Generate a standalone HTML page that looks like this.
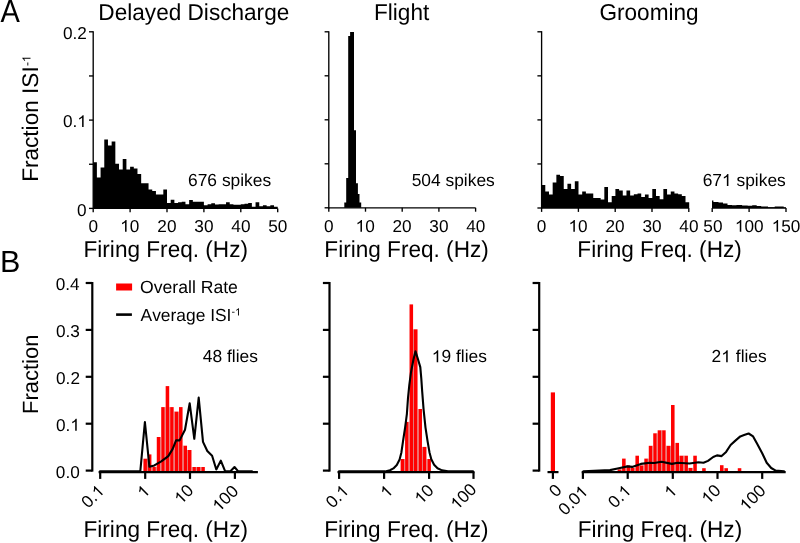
<!DOCTYPE html>
<html><head><meta charset="utf-8"><style>
html,body{margin:0;padding:0;background:#fff;}
body{width:800px;height:543px;overflow:hidden;}
svg{display:block;will-change:transform;}
text{font-family:"Liberation Sans", sans-serif;fill:#000;font-kerning:none;font-variant-ligatures:none;text-rendering:geometricPrecision;}
</style></head><body>
<svg width="800" height="543" viewBox="0 0 800 543">
<g transform="translate(0.44,21.80) scale(1,1.1)"><text x="0.00" y="0" font-size="29">A</text></g>
<g transform="translate(0.10,271.50)"><text x="0.00" y="0" font-size="30.5">B</text></g>
<g transform="translate(98.37,19.70) scale(1,1.02)"><text x="0.00" y="0" font-size="22.6">Delayed Discharge</text></g>
<g transform="translate(374.02,19.70) scale(1,1.02)"><text x="0.00" y="0" font-size="22.6">Flight</text></g>
<g transform="translate(599.40,19.50) scale(1,1.02)"><text x="0.00" y="0" font-size="22.6">Grooming</text></g>
<path d="M93.20,208.40 L93.20,162.20 L96.89,162.20 L96.89,177.40 L100.58,177.40 L100.58,167.40 L104.27,167.40 L104.27,139.40 L107.96,139.40 L107.96,145.40 L111.65,145.40 L111.65,141.50 L115.34,141.50 L115.34,163.80 L119.03,163.80 L119.03,169.40 L122.72,169.40 L122.72,159.10 L126.41,159.10 L126.41,169.40 L130.10,169.40 L130.10,166.80 L133.79,166.80 L133.79,168.60 L137.48,168.60 L137.48,174.10 L141.17,174.10 L141.17,183.20 L144.86,183.20 L144.86,183.20 L148.55,183.20 L148.55,189.60 L152.24,189.60 L152.24,190.90 L155.93,190.90 L155.93,194.40 L159.62,194.40 L159.62,194.40 L163.31,194.40 L163.31,189.50 L167.00,189.50 L167.00,203.00 L170.69,203.00 L170.69,199.70 L174.38,199.70 L174.38,203.00 L178.07,203.00 L178.07,202.25 L181.76,202.25 L181.76,201.80 L185.45,201.80 L185.45,204.20 L189.14,204.20 L189.14,200.00 L192.83,200.00 L192.83,201.80 L196.52,201.80 L196.52,201.80 L200.21,201.80 L200.21,201.80 L203.90,201.80 L203.90,205.25 L207.59,205.25 L207.59,204.20 L211.28,204.20 L211.28,203.30 L214.97,203.30 L214.97,204.50 L218.66,204.50 L218.66,204.20 L222.35,204.20 L222.35,204.20 L226.04,204.20 L226.04,202.25 L229.73,202.25 L229.73,204.20 L233.42,204.20 L233.42,204.80 L237.11,204.80 L237.11,204.80 L240.80,204.80 L240.80,204.20 L244.49,204.20 L244.49,203.75 L248.18,203.75 L248.18,203.00 L251.87,203.00 L251.87,206.75 L255.56,206.75 L255.56,202.25 L259.25,202.25 L259.25,206.30 L262.94,206.30 L262.94,205.25 L266.63,205.25 L266.63,206.30 L270.32,206.30 L270.32,205.25 L274.01,205.25 L274.01,206.75 L277.70,206.75 L277.70,208.40 Z" fill="#000"/>
<line x1="93.20" y1="31.15" x2="93.20" y2="209.05" stroke="#000" stroke-width="1.35"/>
<line x1="89.00" y1="208.40" x2="93.20" y2="208.40" stroke="#000" stroke-width="1.35"/>
<line x1="89.00" y1="164.25" x2="93.20" y2="164.25" stroke="#000" stroke-width="1.35"/>
<line x1="89.00" y1="120.10" x2="93.20" y2="120.10" stroke="#000" stroke-width="1.35"/>
<line x1="89.00" y1="75.95" x2="93.20" y2="75.95" stroke="#000" stroke-width="1.35"/>
<line x1="89.00" y1="31.80" x2="93.20" y2="31.80" stroke="#000" stroke-width="1.35"/>
<line x1="93.20" y1="208.40" x2="277.70" y2="208.40" stroke="#000" stroke-width="1.35"/>
<line x1="93.20" y1="208.40" x2="93.20" y2="212.30" stroke="#000" stroke-width="1.35"/>
<line x1="130.10" y1="208.40" x2="130.10" y2="212.30" stroke="#000" stroke-width="1.35"/>
<line x1="167.00" y1="208.40" x2="167.00" y2="212.30" stroke="#000" stroke-width="1.35"/>
<line x1="203.90" y1="208.40" x2="203.90" y2="212.30" stroke="#000" stroke-width="1.35"/>
<line x1="240.80" y1="208.40" x2="240.80" y2="212.30" stroke="#000" stroke-width="1.35"/>
<line x1="277.70" y1="208.40" x2="277.70" y2="212.30" stroke="#000" stroke-width="1.35"/>
<g transform="translate(88.42,231.80)"><text x="0.00" y="0" font-size="17.2">0</text></g>
<g transform="translate(120.22,231.80)"><text x="0.00" y="0" font-size="17.2"> 0</text><path d="M575,0 L575,1100 Q500,1040 400,985 Q310,935 219,900 L219,1065 Q360,1125 480,1225 Q590,1320 640,1409 L756,1409 L756,0 Z" transform="translate(0.00,0) scale(0.00840,-0.00840)"/></g>
<g transform="translate(157.34,231.80)"><text x="0.00" y="0" font-size="17.2">20</text></g>
<g transform="translate(194.35,231.80)"><text x="0.00" y="0" font-size="17.2">30</text></g>
<g transform="translate(231.37,231.80)"><text x="0.00" y="0" font-size="17.2">40</text></g>
<g transform="translate(268.13,231.80)"><text x="0.00" y="0" font-size="17.2">50</text></g>
<g transform="translate(62.95,38.70)"><text x="0.00" y="0" font-size="17.2">0.2</text></g>
<g transform="translate(62.93,127.10)"><text x="0.00" y="0" font-size="17.2">0. </text><path d="M575,0 L575,1100 Q500,1040 400,985 Q310,935 219,900 L219,1065 Q360,1125 480,1225 Q590,1320 640,1409 L756,1409 L756,0 Z" transform="translate(14.34,0) scale(0.00840,-0.00840)"/></g>
<g transform="translate(77.11,215.60)"><text x="0.00" y="0" font-size="17.2">0</text></g>
<g transform="translate(83.53,256.60) scale(1,1.02)"><text x="0.00" y="0" font-size="22.6">Firing Freq. (Hz)</text></g>
<g transform="translate(188.03,186.10)"><text x="0.00" y="0" font-size="17.4">676 spikes</text></g>
<g transform="translate(38.20,181.85) rotate(-90)"><text x="0.00" y="0" font-size="22.6">Fraction ISI</text></g>
<g transform="translate(30.50,66.10) rotate(-90)"><text x="0.00" y="0" font-size="12.0">- </text><path d="M575,0 L575,1100 Q500,1040 400,985 Q310,935 219,900 L219,1065 Q360,1125 480,1225 Q590,1320 640,1409 L756,1409 L756,0 Z" transform="translate(4.00,0) scale(0.00586,-0.00586)"/></g>
<g transform="translate(37.80,414.00) rotate(-90)"><text x="0.00" y="0" font-size="22.0">Fraction</text></g>
<path d="M344.30,207.80 L344.30,202.40 L346.20,202.40 L346.20,178.00 L348.20,178.00 L348.20,36.00 L350.10,36.00 L350.10,31.90 L354.00,31.90 L354.00,130.20 L356.00,130.20 L356.00,183.20 L357.90,183.20 L357.90,194.00 L359.50,194.00 L359.50,202.40 L361.20,202.40 L361.20,207.80 Z" fill="#000"/>
<line x1="328.80" y1="31.15" x2="328.80" y2="208.45" stroke="#000" stroke-width="1.35"/>
<line x1="324.60" y1="207.80" x2="328.80" y2="207.80" stroke="#000" stroke-width="1.35"/>
<line x1="324.60" y1="163.80" x2="328.80" y2="163.80" stroke="#000" stroke-width="1.35"/>
<line x1="324.60" y1="119.80" x2="328.80" y2="119.80" stroke="#000" stroke-width="1.35"/>
<line x1="324.60" y1="75.80" x2="328.80" y2="75.80" stroke="#000" stroke-width="1.35"/>
<line x1="324.60" y1="31.80" x2="328.80" y2="31.80" stroke="#000" stroke-width="1.35"/>
<line x1="328.80" y1="207.80" x2="475.60" y2="207.80" stroke="#000" stroke-width="1.35"/>
<line x1="328.80" y1="207.80" x2="328.80" y2="211.70" stroke="#000" stroke-width="1.35"/>
<line x1="365.50" y1="207.80" x2="365.50" y2="211.70" stroke="#000" stroke-width="1.35"/>
<line x1="402.20" y1="207.80" x2="402.20" y2="211.70" stroke="#000" stroke-width="1.35"/>
<line x1="438.90" y1="207.80" x2="438.90" y2="211.70" stroke="#000" stroke-width="1.35"/>
<line x1="475.60" y1="207.80" x2="475.60" y2="211.70" stroke="#000" stroke-width="1.35"/>
<g transform="translate(324.02,231.80)"><text x="0.00" y="0" font-size="17.2">0</text></g>
<g transform="translate(355.62,231.80)"><text x="0.00" y="0" font-size="17.2"> 0</text><path d="M575,0 L575,1100 Q500,1040 400,985 Q310,935 219,900 L219,1065 Q360,1125 480,1225 Q590,1320 640,1409 L756,1409 L756,0 Z" transform="translate(0.00,0) scale(0.00840,-0.00840)"/></g>
<g transform="translate(392.54,231.80)"><text x="0.00" y="0" font-size="17.2">20</text></g>
<g transform="translate(429.35,231.80)"><text x="0.00" y="0" font-size="17.2">30</text></g>
<g transform="translate(466.17,231.80)"><text x="0.00" y="0" font-size="17.2">40</text></g>
<g transform="translate(324.33,257.00) scale(1,1.02)"><text x="0.00" y="0" font-size="22.6">Firing Freq. (Hz)</text></g>
<g transform="translate(411.63,186.10)"><text x="0.00" y="0" font-size="17.4">504 spikes</text></g>
<path d="M541.60,208.00 L541.60,185.00 L545.29,185.00 L545.29,191.50 L548.98,191.50 L548.98,194.50 L552.67,194.50 L552.67,182.50 L556.36,182.50 L556.36,174.80 L560.05,174.80 L560.05,176.00 L563.74,176.00 L563.74,189.00 L567.43,189.00 L567.43,183.80 L571.12,183.80 L571.12,189.00 L574.81,189.00 L574.81,181.20 L578.50,181.20 L578.50,194.50 L582.19,194.50 L582.19,191.50 L585.88,191.50 L585.88,193.50 L589.57,193.50 L589.57,193.50 L593.26,193.50 L593.26,198.00 L596.95,198.00 L596.95,198.00 L600.64,198.00 L600.64,199.50 L604.33,199.50 L604.33,187.00 L608.02,187.00 L608.02,202.20 L611.71,202.20 L611.71,196.00 L615.40,196.00 L615.40,189.00 L619.09,189.00 L619.09,190.50 L622.78,190.50 L622.78,195.50 L626.47,195.50 L626.47,190.50 L630.16,190.50 L630.16,195.50 L633.85,195.50 L633.85,194.20 L637.54,194.20 L637.54,193.50 L641.23,193.50 L641.23,197.00 L644.92,197.00 L644.92,194.50 L648.61,194.50 L648.61,198.00 L652.30,198.00 L652.30,189.00 L655.99,189.00 L655.99,196.00 L659.68,196.00 L659.68,199.20 L663.37,199.20 L663.37,189.00 L667.06,189.00 L667.06,194.50 L670.75,194.50 L670.75,191.50 L674.44,191.50 L674.44,193.50 L678.13,193.50 L678.13,194.20 L681.82,194.20 L681.82,196.00 L685.51,196.00 L685.51,202.20 L689.20,202.20 L689.20,208.00 Z" fill="#000"/>
<path d="M712,208.00 L712.00,200.50 L713.40,200.50 L713.40,202.10 L718.50,202.10 L718.50,202.40 L723.00,202.40 L723.00,203.60 L727.50,203.60 L727.50,205.00 L732.00,205.00 L732.00,205.20 L736.50,205.20 L736.50,205.00 L742.10,205.00 L742.10,205.50 L747.70,205.50 L747.70,205.80 L752.20,205.80 L752.20,205.20 L756.70,205.20 L756.70,206.10 L761.20,206.10 L761.20,206.60 L768.00,206.60 L768.00,207.30 L774.70,207.30 L774.70,206.60 L783.70,206.60 L783.70,207.50 L785.60,207.50 L785.6,208.00 Z" fill="#000"/>
<line x1="541.60" y1="31.15" x2="541.60" y2="208.65" stroke="#000" stroke-width="1.35"/>
<line x1="537.40" y1="208.00" x2="541.60" y2="208.00" stroke="#000" stroke-width="1.35"/>
<line x1="537.40" y1="163.95" x2="541.60" y2="163.95" stroke="#000" stroke-width="1.35"/>
<line x1="537.40" y1="119.90" x2="541.60" y2="119.90" stroke="#000" stroke-width="1.35"/>
<line x1="537.40" y1="75.85" x2="541.60" y2="75.85" stroke="#000" stroke-width="1.35"/>
<line x1="537.40" y1="31.80" x2="541.60" y2="31.80" stroke="#000" stroke-width="1.35"/>
<line x1="541.60" y1="208.00" x2="688.80" y2="208.00" stroke="#000" stroke-width="1.35"/>
<line x1="541.60" y1="208.00" x2="541.60" y2="211.90" stroke="#000" stroke-width="1.35"/>
<line x1="578.40" y1="208.00" x2="578.40" y2="211.90" stroke="#000" stroke-width="1.35"/>
<line x1="615.20" y1="208.00" x2="615.20" y2="211.90" stroke="#000" stroke-width="1.35"/>
<line x1="652.00" y1="208.00" x2="652.00" y2="211.90" stroke="#000" stroke-width="1.35"/>
<line x1="688.80" y1="208.00" x2="688.80" y2="211.90" stroke="#000" stroke-width="1.35"/>
<g transform="translate(536.82,231.80)"><text x="0.00" y="0" font-size="17.2">0</text></g>
<g transform="translate(568.52,231.80)"><text x="0.00" y="0" font-size="17.2"> 0</text><path d="M575,0 L575,1100 Q500,1040 400,985 Q310,935 219,900 L219,1065 Q360,1125 480,1225 Q590,1320 640,1409 L756,1409 L756,0 Z" transform="translate(0.00,0) scale(0.00840,-0.00840)"/></g>
<g transform="translate(605.54,231.80)"><text x="0.00" y="0" font-size="17.2">20</text></g>
<g transform="translate(642.45,231.80)"><text x="0.00" y="0" font-size="17.2">30</text></g>
<g transform="translate(679.37,231.80)"><text x="0.00" y="0" font-size="17.2">40</text></g>
<line x1="712.20" y1="208.00" x2="786.00" y2="208.00" stroke="#000" stroke-width="1.35"/>
<line x1="712.20" y1="208.00" x2="712.20" y2="211.90" stroke="#000" stroke-width="1.35"/>
<line x1="749.10" y1="208.00" x2="749.10" y2="211.90" stroke="#000" stroke-width="1.35"/>
<line x1="786.00" y1="208.00" x2="786.00" y2="211.90" stroke="#000" stroke-width="1.35"/>
<g transform="translate(703.33,231.80)"><text x="0.00" y="0" font-size="17.2">50</text></g>
<g transform="translate(734.94,231.80)"><text x="0.00" y="0" font-size="17.2"> 00</text><path d="M575,0 L575,1100 Q500,1040 400,985 Q310,935 219,900 L219,1065 Q360,1125 480,1225 Q590,1320 640,1409 L756,1409 L756,0 Z" transform="translate(0.00,0) scale(0.00840,-0.00840)"/></g>
<g transform="translate(771.74,231.80)"><text x="0.00" y="0" font-size="17.2"> 50</text><path d="M575,0 L575,1100 Q500,1040 400,985 Q310,935 219,900 L219,1065 Q360,1125 480,1225 Q590,1320 640,1409 L756,1409 L756,0 Z" transform="translate(0.00,0) scale(0.00840,-0.00840)"/></g>
<g transform="translate(577.33,257.00) scale(1,1.02)"><text x="0.00" y="0" font-size="22.6">Firing Freq. (Hz)</text></g>
<g transform="translate(702.63,186.10)"><text x="0.00" y="0" font-size="17.4">67  spikes</text><path d="M575,0 L575,1100 Q500,1040 400,985 Q310,935 219,900 L219,1065 Q360,1125 480,1225 Q590,1320 640,1409 L756,1409 L756,0 Z" transform="translate(19.35,0) scale(0.00850,-0.00850)"/></g>
<rect x="143.42" y="458.70" width="3.55" height="13.40" fill="#ff0000"/>
<rect x="147.87" y="454.40" width="3.55" height="17.70" fill="#ff0000"/>
<rect x="152.32" y="466.80" width="3.55" height="5.30" fill="#ff0000"/>
<rect x="156.77" y="437.00" width="3.55" height="35.10" fill="#ff0000"/>
<rect x="161.22" y="407.10" width="3.55" height="65.00" fill="#ff0000"/>
<rect x="165.67" y="386.10" width="3.55" height="86.00" fill="#ff0000"/>
<rect x="170.12" y="407.10" width="3.55" height="65.00" fill="#ff0000"/>
<rect x="174.57" y="411.60" width="3.55" height="60.50" fill="#ff0000"/>
<rect x="179.02" y="407.10" width="3.55" height="65.00" fill="#ff0000"/>
<rect x="183.47" y="445.70" width="3.55" height="26.40" fill="#ff0000"/>
<rect x="187.92" y="450.00" width="3.55" height="22.10" fill="#ff0000"/>
<rect x="192.37" y="467.00" width="3.55" height="5.10" fill="#ff0000"/>
<rect x="196.82" y="467.00" width="3.55" height="5.10" fill="#ff0000"/>
<rect x="201.27" y="467.00" width="3.55" height="5.10" fill="#ff0000"/>
<rect x="146.97" y="458.70" width="0.90" height="13.40" fill="#de6a6a"/>
<rect x="151.42" y="466.80" width="0.90" height="5.30" fill="#de6a6a"/>
<rect x="155.88" y="466.80" width="0.90" height="5.30" fill="#de6a6a"/>
<rect x="160.32" y="437.00" width="0.90" height="35.10" fill="#de6a6a"/>
<rect x="164.78" y="407.10" width="0.90" height="65.00" fill="#de6a6a"/>
<rect x="169.22" y="407.10" width="0.90" height="65.00" fill="#de6a6a"/>
<rect x="173.67" y="411.60" width="0.90" height="60.50" fill="#de6a6a"/>
<rect x="178.12" y="411.60" width="0.90" height="60.50" fill="#de6a6a"/>
<rect x="182.57" y="445.70" width="0.90" height="26.40" fill="#de6a6a"/>
<rect x="187.03" y="450.00" width="0.90" height="22.10" fill="#de6a6a"/>
<rect x="191.47" y="467.00" width="0.90" height="5.10" fill="#de6a6a"/>
<rect x="195.92" y="467.00" width="0.90" height="5.10" fill="#de6a6a"/>
<rect x="200.38" y="467.00" width="0.90" height="5.10" fill="#de6a6a"/>
<line x1="92.30" y1="282.00" x2="92.30" y2="471.60" stroke="#000" stroke-width="2.2"/>
<line x1="85.70" y1="470.60" x2="92.30" y2="470.60" stroke="#000" stroke-width="2.2"/>
<line x1="85.70" y1="423.70" x2="92.30" y2="423.70" stroke="#000" stroke-width="2.2"/>
<line x1="85.70" y1="376.80" x2="92.30" y2="376.80" stroke="#000" stroke-width="2.2"/>
<line x1="85.70" y1="329.90" x2="92.30" y2="329.90" stroke="#000" stroke-width="2.2"/>
<line x1="85.70" y1="283.00" x2="92.30" y2="283.00" stroke="#000" stroke-width="2.2"/>
<g transform="translate(55.69,290.00)"><text x="0.00" y="0" font-size="17.2">0.4</text></g>
<g transform="translate(55.95,336.90)"><text x="0.00" y="0" font-size="17.2">0.3</text></g>
<g transform="translate(56.05,383.80)"><text x="0.00" y="0" font-size="17.2">0.2</text></g>
<g transform="translate(56.03,430.70)"><text x="0.00" y="0" font-size="17.2">0. </text><path d="M575,0 L575,1100 Q500,1040 400,985 Q310,935 219,900 L219,1065 Q360,1125 480,1225 Q590,1320 640,1409 L756,1409 L756,0 Z" transform="translate(14.34,0) scale(0.00840,-0.00840)"/></g>
<g transform="translate(55.86,477.60)"><text x="0.00" y="0" font-size="17.2">0.0</text></g>
<line x1="98.60" y1="472.10" x2="257.90" y2="472.10" stroke="#000" stroke-width="2.2"/>
<line x1="100.20" y1="472.10" x2="100.20" y2="478.90" stroke="#000" stroke-width="2.2"/>
<line x1="145.20" y1="472.10" x2="145.20" y2="478.90" stroke="#000" stroke-width="2.2"/>
<line x1="190.00" y1="472.10" x2="190.00" y2="478.90" stroke="#000" stroke-width="2.2"/>
<line x1="234.90" y1="472.10" x2="234.90" y2="478.90" stroke="#000" stroke-width="2.2"/>
<g transform="translate(105.22,492.00) rotate(-45)"><text x="-23.91" y="0" font-size="17.2">0. </text><path d="M575,0 L575,1100 Q500,1040 400,985 Q310,935 219,900 L219,1065 Q360,1125 480,1225 Q590,1320 640,1409 L756,1409 L756,0 Z" transform="translate(-9.56,0) scale(0.00840,-0.00840)"/></g>
<g transform="translate(150.80,492.22) rotate(-45)"><text x="-9.56" y="0" font-size="17.2"> </text><path d="M575,0 L575,1100 Q500,1040 400,985 Q310,935 219,900 L219,1065 Q360,1125 480,1225 Q590,1320 640,1409 L756,1409 L756,0 Z" transform="translate(-9.56,0) scale(0.00840,-0.00840)"/></g>
<g transform="translate(194.60,491.52) rotate(-45)"><text x="-19.13" y="0" font-size="17.2"> 0</text><path d="M575,0 L575,1100 Q500,1040 400,985 Q310,935 219,900 L219,1065 Q360,1125 480,1225 Q590,1320 640,1409 L756,1409 L756,0 Z" transform="translate(-19.13,0) scale(0.00840,-0.00840)"/></g>
<g transform="translate(239.40,492.30) rotate(-45)"><text x="-28.69" y="0" font-size="17.2"> 00</text><path d="M575,0 L575,1100 Q500,1040 400,985 Q310,935 219,900 L219,1065 Q360,1125 480,1225 Q590,1320 640,1409 L756,1409 L756,0 Z" transform="translate(-28.69,0) scale(0.00840,-0.00840)"/></g>
<polyline points="100.00,471.40 140.30,471.40 144.90,422.00 149.40,466.70 154.30,465.40 161.30,461.40 168.30,456.10 172.60,449.10 176.10,440.40 179.60,440.40 185.00,429.70 189.70,403.30 194.30,438.80 198.70,397.60 203.00,441.90 207.30,451.00 212.10,455.80 216.30,469.50 220.80,460.60 225.20,471.40 230.20,471.40 234.50,467.00 238.20,471.40 252.00,471.40" fill="none" stroke="#000" stroke-width="2.1" stroke-linejoin="round" stroke-linecap="round"/>
<g transform="translate(83.53,537.00) scale(1,1.02)"><text x="0.00" y="0" font-size="22.6">Firing Freq. (Hz)</text></g>
<g transform="translate(202.85,362.30)"><text x="0.00" y="0" font-size="17.4">48 flies</text></g>
<rect x="116.10" y="283.50" width="16.00" height="7.00" fill="#ff0000"/>
<line x1="116.10" y1="314.60" x2="131.90" y2="314.60" stroke="#000" stroke-width="2.6"/>
<g transform="translate(140.07,293.40)"><text x="0.00" y="0" font-size="17.6">Overall Rate</text></g>
<g transform="translate(140.57,320.90)"><text x="0.00" y="0" font-size="17.4">Average ISI</text></g>
<g transform="translate(231.54,315.40)"><text x="0.00" y="0" font-size="10.5">- </text><path d="M575,0 L575,1100 Q500,1040 400,985 Q310,935 219,900 L219,1065 Q360,1125 480,1225 Q590,1320 640,1409 L756,1409 L756,0 Z" transform="translate(3.50,0) scale(0.00513,-0.00513)"/></g>
<rect x="400.63" y="459.00" width="3.55" height="13.10" fill="#ff0000"/>
<rect x="405.08" y="421.90" width="3.55" height="50.20" fill="#ff0000"/>
<rect x="409.53" y="304.40" width="3.55" height="167.70" fill="#ff0000"/>
<rect x="413.98" y="329.30" width="3.55" height="142.80" fill="#ff0000"/>
<rect x="418.43" y="409.00" width="3.55" height="63.10" fill="#ff0000"/>
<rect x="422.88" y="446.90" width="3.55" height="25.20" fill="#ff0000"/>
<rect x="427.33" y="459.00" width="3.55" height="13.10" fill="#ff0000"/>
<rect x="404.18" y="459.00" width="0.90" height="13.10" fill="#de6a6a"/>
<rect x="408.62" y="421.90" width="0.90" height="50.20" fill="#de6a6a"/>
<rect x="413.07" y="329.30" width="0.90" height="142.80" fill="#de6a6a"/>
<rect x="417.52" y="409.00" width="0.90" height="63.10" fill="#de6a6a"/>
<rect x="421.98" y="446.90" width="0.90" height="25.20" fill="#de6a6a"/>
<rect x="426.43" y="459.00" width="0.90" height="13.10" fill="#de6a6a"/>
<line x1="329.50" y1="282.00" x2="329.50" y2="471.60" stroke="#000" stroke-width="2.2"/>
<line x1="322.90" y1="470.60" x2="329.50" y2="470.60" stroke="#000" stroke-width="2.2"/>
<line x1="322.90" y1="423.70" x2="329.50" y2="423.70" stroke="#000" stroke-width="2.2"/>
<line x1="322.90" y1="376.80" x2="329.50" y2="376.80" stroke="#000" stroke-width="2.2"/>
<line x1="322.90" y1="329.90" x2="329.50" y2="329.90" stroke="#000" stroke-width="2.2"/>
<line x1="322.90" y1="283.00" x2="329.50" y2="283.00" stroke="#000" stroke-width="2.2"/>
<line x1="337.50" y1="472.10" x2="474.50" y2="472.10" stroke="#000" stroke-width="2.2"/>
<line x1="339.10" y1="472.10" x2="339.10" y2="478.90" stroke="#000" stroke-width="2.2"/>
<line x1="384.10" y1="472.10" x2="384.10" y2="478.90" stroke="#000" stroke-width="2.2"/>
<line x1="429.10" y1="472.10" x2="429.10" y2="478.90" stroke="#000" stroke-width="2.2"/>
<line x1="473.50" y1="472.10" x2="473.50" y2="478.90" stroke="#000" stroke-width="2.2"/>
<g transform="translate(349.68,492.00) rotate(-45)"><text x="-23.91" y="0" font-size="17.2">0. </text><path d="M575,0 L575,1100 Q500,1040 400,985 Q310,935 219,900 L219,1065 Q360,1125 480,1225 Q590,1320 640,1409 L756,1409 L756,0 Z" transform="translate(-9.56,0) scale(0.00840,-0.00840)"/></g>
<g transform="translate(393.80,492.22) rotate(-45)"><text x="-9.56" y="0" font-size="17.2"> </text><path d="M575,0 L575,1100 Q500,1040 400,985 Q310,935 219,900 L219,1065 Q360,1125 480,1225 Q590,1320 640,1409 L756,1409 L756,0 Z" transform="translate(-9.56,0) scale(0.00840,-0.00840)"/></g>
<g transform="translate(434.70,491.52) rotate(-45)"><text x="-19.13" y="0" font-size="17.2"> 0</text><path d="M575,0 L575,1100 Q500,1040 400,985 Q310,935 219,900 L219,1065 Q360,1125 480,1225 Q590,1320 640,1409 L756,1409 L756,0 Z" transform="translate(-19.13,0) scale(0.00840,-0.00840)"/></g>
<g transform="translate(477.50,490.40) rotate(-45)"><text x="-28.69" y="0" font-size="17.2"> 00</text><path d="M575,0 L575,1100 Q500,1040 400,985 Q310,935 219,900 L219,1065 Q360,1125 480,1225 Q590,1320 640,1409 L756,1409 L756,0 Z" transform="translate(-28.69,0) scale(0.00840,-0.00840)"/></g>
<polyline points="339.00,471.40 385.00,471.40 390.00,470.20 393.40,468.40 396.80,464.90 399.60,459.40 401.40,452.40 403.00,441.40 405.10,427.60 406.90,413.80 408.00,398.00 409.30,385.10 411.00,372.20 413.50,359.30 415.50,351.20 418.00,359.30 420.30,367.10 421.30,378.70 422.20,391.60 423.60,409.60 425.50,427.60 427.60,441.40 429.50,452.40 431.30,459.30 434.10,464.80 437.50,468.30 442.00,470.40 448.00,471.40 473.00,471.40" fill="none" stroke="#000" stroke-width="2.1" stroke-linejoin="round" stroke-linecap="round"/>
<g transform="translate(324.13,537.00) scale(1,1.02)"><text x="0.00" y="0" font-size="22.6">Firing Freq. (Hz)</text></g>
<g transform="translate(431.79,362.30)"><text x="0.00" y="0" font-size="17.4"> 9 flies</text><path d="M575,0 L575,1100 Q500,1040 400,985 Q310,935 219,900 L219,1065 Q360,1125 480,1225 Q590,1320 640,1409 L756,1409 L756,0 Z" transform="translate(0.00,0) scale(0.00850,-0.00850)"/></g>
<rect x="550.80" y="392.40" width="4.20" height="79.70" fill="#ff0000"/>
<rect x="617.62" y="469.40" width="3.55" height="2.70" fill="#ff0000"/>
<rect x="622.07" y="458.60" width="3.55" height="13.50" fill="#ff0000"/>
<rect x="626.52" y="465.40" width="3.55" height="6.70" fill="#ff0000"/>
<rect x="630.98" y="467.90" width="3.55" height="4.20" fill="#ff0000"/>
<rect x="635.42" y="455.70" width="3.55" height="16.40" fill="#ff0000"/>
<rect x="639.88" y="465.40" width="3.55" height="6.70" fill="#ff0000"/>
<rect x="644.32" y="458.60" width="3.55" height="13.50" fill="#ff0000"/>
<rect x="648.77" y="445.80" width="3.55" height="26.30" fill="#ff0000"/>
<rect x="653.23" y="433.30" width="3.55" height="38.80" fill="#ff0000"/>
<rect x="657.67" y="430.30" width="3.55" height="41.80" fill="#ff0000"/>
<rect x="662.12" y="430.30" width="3.55" height="41.80" fill="#ff0000"/>
<rect x="666.57" y="445.80" width="3.55" height="26.30" fill="#ff0000"/>
<rect x="671.02" y="405.00" width="3.55" height="67.10" fill="#ff0000"/>
<rect x="675.48" y="442.90" width="3.55" height="29.20" fill="#ff0000"/>
<rect x="679.92" y="455.70" width="3.55" height="16.40" fill="#ff0000"/>
<rect x="684.38" y="455.70" width="3.55" height="16.40" fill="#ff0000"/>
<rect x="688.82" y="467.90" width="3.55" height="4.20" fill="#ff0000"/>
<rect x="693.27" y="455.70" width="3.55" height="16.40" fill="#ff0000"/>
<rect x="702.17" y="468.20" width="3.55" height="3.90" fill="#ff0000"/>
<rect x="719.98" y="465.20" width="3.55" height="6.90" fill="#ff0000"/>
<rect x="724.42" y="468.20" width="3.55" height="3.90" fill="#ff0000"/>
<rect x="737.77" y="468.20" width="3.55" height="3.90" fill="#ff0000"/>
<rect x="621.17" y="469.40" width="0.90" height="2.70" fill="#de6a6a"/>
<rect x="625.62" y="465.40" width="0.90" height="6.70" fill="#de6a6a"/>
<rect x="630.07" y="467.90" width="0.90" height="4.20" fill="#de6a6a"/>
<rect x="634.52" y="467.90" width="0.90" height="4.20" fill="#de6a6a"/>
<rect x="638.97" y="465.40" width="0.90" height="6.70" fill="#de6a6a"/>
<rect x="643.42" y="465.40" width="0.90" height="6.70" fill="#de6a6a"/>
<rect x="647.87" y="458.60" width="0.90" height="13.50" fill="#de6a6a"/>
<rect x="652.32" y="445.80" width="0.90" height="26.30" fill="#de6a6a"/>
<rect x="656.77" y="433.30" width="0.90" height="38.80" fill="#de6a6a"/>
<rect x="661.22" y="430.30" width="0.90" height="41.80" fill="#de6a6a"/>
<rect x="665.67" y="445.80" width="0.90" height="26.30" fill="#de6a6a"/>
<rect x="670.12" y="445.80" width="0.90" height="26.30" fill="#de6a6a"/>
<rect x="674.57" y="442.90" width="0.90" height="29.20" fill="#de6a6a"/>
<rect x="679.02" y="455.70" width="0.90" height="16.40" fill="#de6a6a"/>
<rect x="683.47" y="455.70" width="0.90" height="16.40" fill="#de6a6a"/>
<rect x="687.92" y="467.90" width="0.90" height="4.20" fill="#de6a6a"/>
<rect x="692.37" y="467.90" width="0.90" height="4.20" fill="#de6a6a"/>
<rect x="723.52" y="468.20" width="0.90" height="3.90" fill="#de6a6a"/>
<line x1="539.20" y1="282.00" x2="539.20" y2="471.60" stroke="#000" stroke-width="2.2"/>
<line x1="532.60" y1="470.60" x2="539.20" y2="470.60" stroke="#000" stroke-width="2.2"/>
<line x1="532.60" y1="423.70" x2="539.20" y2="423.70" stroke="#000" stroke-width="2.2"/>
<line x1="532.60" y1="376.80" x2="539.20" y2="376.80" stroke="#000" stroke-width="2.2"/>
<line x1="532.60" y1="329.90" x2="539.20" y2="329.90" stroke="#000" stroke-width="2.2"/>
<line x1="532.60" y1="283.00" x2="539.20" y2="283.00" stroke="#000" stroke-width="2.2"/>
<line x1="547.50" y1="472.10" x2="558.50" y2="472.10" stroke="#000" stroke-width="2.2"/>
<line x1="552.90" y1="472.10" x2="552.90" y2="478.90" stroke="#000" stroke-width="2.2"/>
<g transform="translate(562.80,491.18) rotate(-45)"><text x="-9.56" y="0" font-size="17.2">0</text></g>
<line x1="581.70" y1="472.10" x2="785.70" y2="472.10" stroke="#000" stroke-width="2.2"/>
<line x1="582.90" y1="472.10" x2="582.90" y2="478.90" stroke="#000" stroke-width="2.2"/>
<line x1="627.70" y1="472.10" x2="627.70" y2="478.90" stroke="#000" stroke-width="2.2"/>
<line x1="672.80" y1="472.10" x2="672.80" y2="478.90" stroke="#000" stroke-width="2.2"/>
<line x1="717.50" y1="472.10" x2="717.50" y2="478.90" stroke="#000" stroke-width="2.2"/>
<line x1="762.20" y1="472.10" x2="762.20" y2="478.90" stroke="#000" stroke-width="2.2"/>
<g transform="translate(588.80,492.70) rotate(-45)"><text x="-33.47" y="0" font-size="17.2">0.0 </text><path d="M575,0 L575,1100 Q500,1040 400,985 Q310,935 219,900 L219,1065 Q360,1125 480,1225 Q590,1320 640,1409 L756,1409 L756,0 Z" transform="translate(-9.56,0) scale(0.00840,-0.00840)"/></g>
<g transform="translate(632.00,492.00) rotate(-45)"><text x="-23.91" y="0" font-size="17.2">0. </text><path d="M575,0 L575,1100 Q500,1040 400,985 Q310,935 219,900 L219,1065 Q360,1125 480,1225 Q590,1320 640,1409 L756,1409 L756,0 Z" transform="translate(-9.56,0) scale(0.00840,-0.00840)"/></g>
<g transform="translate(677.80,492.22) rotate(-45)"><text x="-9.56" y="0" font-size="17.2"> </text><path d="M575,0 L575,1100 Q500,1040 400,985 Q310,935 219,900 L219,1065 Q360,1125 480,1225 Q590,1320 640,1409 L756,1409 L756,0 Z" transform="translate(-9.56,0) scale(0.00840,-0.00840)"/></g>
<g transform="translate(721.70,491.52) rotate(-45)"><text x="-19.13" y="0" font-size="17.2"> 0</text><path d="M575,0 L575,1100 Q500,1040 400,985 Q310,935 219,900 L219,1065 Q360,1125 480,1225 Q590,1320 640,1409 L756,1409 L756,0 Z" transform="translate(-19.13,0) scale(0.00840,-0.00840)"/></g>
<g transform="translate(766.70,491.80) rotate(-45)"><text x="-28.69" y="0" font-size="17.2"> 00</text><path d="M575,0 L575,1100 Q500,1040 400,985 Q310,935 219,900 L219,1065 Q360,1125 480,1225 Q590,1320 640,1409 L756,1409 L756,0 Z" transform="translate(-28.69,0) scale(0.00840,-0.00840)"/></g>
<polyline points="583.40,471.40 610.00,470.10 618.80,468.30 627.70,466.40 632.10,466.90 640.90,463.90 649.80,462.70 654.20,463.00 661.50,461.70 671.90,463.90 677.70,462.70 689.50,463.50 698.40,462.20 703.50,462.80 708.00,460.90 713.20,457.00 717.00,455.40 721.60,456.10 726.10,451.90 730.60,445.00 735.10,440.90 740.30,436.40 744.10,435.10 748.60,433.50 753.10,436.40 757.00,443.50 762.20,453.20 766.70,462.80 771.20,468.00 775.70,470.60 784.00,471.40" fill="none" stroke="#000" stroke-width="2.1" stroke-linejoin="round" stroke-linecap="round"/>
<g transform="translate(577.73,537.30) scale(1,1.02)"><text x="0.00" y="0" font-size="22.6">Firing Freq. (Hz)</text></g>
<g transform="translate(711.62,362.30)"><text x="0.00" y="0" font-size="17.4">2  flies</text><path d="M575,0 L575,1100 Q500,1040 400,985 Q310,935 219,900 L219,1065 Q360,1125 480,1225 Q590,1320 640,1409 L756,1409 L756,0 Z" transform="translate(9.67,0) scale(0.00850,-0.00850)"/></g>
</svg>
</body></html>
